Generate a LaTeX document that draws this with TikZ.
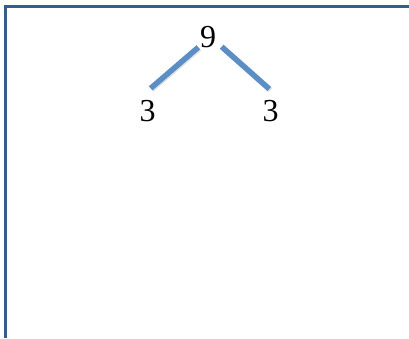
\documentclass[tikz,border=0pt]{standalone}
\usepackage{fontspec}
\setmainfont{Liberation Serif}
\definecolor{framecol}{RGB}{56,93,138}
\definecolor{branchcol}{RGB}{92,142,198}
\begin{document}
\begin{tikzpicture}[x=1pt, y=1pt,
    every node/.style={font=\fontsize{32}{32}\selectfont, inner sep=0pt},
    branch/.style={line width=5.5pt, branchcol},
    branchshadow/.style={line width=5.5pt, black, opacity=0.12}]
    \useasboundingbox (0,0) rectangle (409,338);

    % Rahmen (nur oben und links sichtbar)
    \draw[framecol, line width=2.5pt] (5.5,0) -- (5.5,331.5) -- (409,331.5);

    % Zahlen
    \node (nine) at (208,300.5) {9};
    \node (threeL) at (147.5,227) {3};
    \node (threeR) at (270.5,227) {3};

    % Enden der Aeste
    \coordinate (nineL) at ([shift={(-9.7,-9.8)}]nine.center);
    \coordinate (nineR) at ([shift={(13.7,-9.2)}]nine.center);
    \coordinate (leftTop) at ([shift={(3.2,22.7)}]threeL.center);
    \coordinate (rightTop) at ([shift={(-1.2,22)}]threeR.center);

    % Aeste
    \draw[branchshadow] ([shift={(1,-1.2)}]nineL) -- ([shift={(1,-1.2)}]leftTop);
    \draw[branchshadow] ([shift={(1,-1.2)}]nineR) -- ([shift={(1,-1.2)}]rightTop);
    \draw[branch] (nineL) -- (leftTop);
    \draw[branch] (nineR) -- (rightTop);
\end{tikzpicture}
\end{document}
